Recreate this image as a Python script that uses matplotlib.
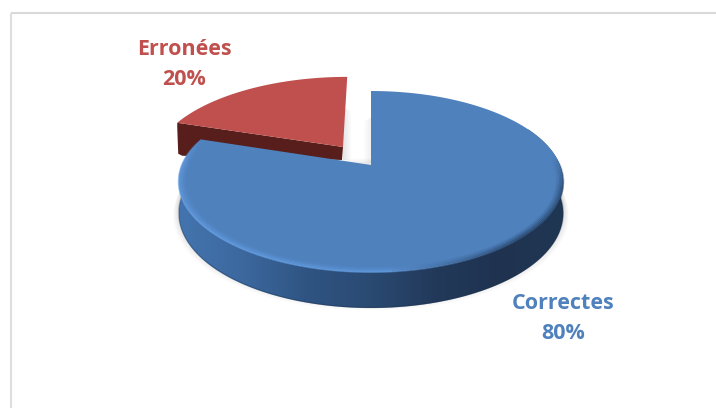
import numpy as np
import matplotlib
matplotlib.use("Agg")
import matplotlib.pyplot as plt
from matplotlib.collections import LineCollection
from matplotlib.patches import Polygon
from matplotlib.colors import LinearSegmentedColormap, to_rgb

# Data
labels = ["Correctes", "Erronées"]
shares = [80, 20]
colors = ["#4f81bd", "#c0504d"]

# perspective of the tilted disc, in pixels of the 716x408 figure
cx, cy = 371, 165
ax_u, a_v, persp = 189, -57.4, 0.1823


def project(u, v):
    w = 1 + persp * v
    return cx + ax_u * u / w, (cy + a_v * v) / w


def depth(v, base=31, slope=5):
    return base - slope * v


def slice_angles(start_share, share):
    # clockwise from the top, as in a spreadsheet pie
    a0 = start_share / sum(shares) * 2 * np.pi
    a1 = (start_share + share) / sum(shares) * 2 * np.pi
    return np.linspace(a0, a1, 240)


def arc(t, r=1.0, u0=0.0, v0=0.0):
    return u0 + r * np.sin(t), v0 + r * np.cos(t)


def mix(c1, c2, f):
    c1, c2 = np.array(to_rgb(c1)), np.array(to_rgb(c2))
    return tuple(c1 + (c2 - c1) * f)


fig = plt.figure(figsize=(7.16, 4.08), dpi=100)
ax = fig.add_axes([0, 0, 1, 1])
ax.set_xlim(0, 716)
ax.set_ylim(408, 0)
ax.axis("off")

# chart frame, only top and left are visible in the crop
ax.plot([10.5, 716], [12.5, 12.5], color="#d9d9d9", lw=1.5, solid_capstyle="butt")
ax.plot([10.5, 10.5], [12.5, 408], color="#dedede", lw=1.5, solid_capstyle="butt")

t_blue = slice_angles(0, shares[0])
t_red = slice_angles(shares[0], shares[1])

# Erronees slice, pulled out of the pie
u0, v0, r_red = -0.154, 0.214, 1.02
ur, vr = arc(t_red, r_red, u0, v0)
xr, yr = project(np.r_[u0, ur], np.r_[v0, vr])
apex = np.array([xr[0], yr[0]])
corner = np.array([xr[1], yr[1]])
end = np.array([xr[-1], yr[-1]])

# soft shadow to the right of the red slice and of the blue cut
for k in range(1, 6):
    ax.fill([apex[0], apex[0] + k * 1.6, apex[0] + k * 1.6, apex[0]],
            [end[1] + 30, end[1] + 34, apex[1] + 13, apex[1] + 13],
            color="#000000", alpha=0.02, lw=0)
    ax.fill([cx - k * 1.4, cx, cx, cx - k * 1.4],
            [cy - 44, cy - 48, cy - 2, cy - 2],
            color="#000000", alpha=0.012, lw=0)

# its rim: thin band along the cut edge, longer at the outer end
ax.add_patch(Polygon([apex, apex + [-1, 13], corner + [5, 33], corner + [1, 31], corner + [0, 5], corner],
                     closed=True, color="#571e1b", lw=0))
ax.add_patch(Polygon(np.c_[xr, yr], closed=True, color=colors[1], lw=0))

# Correctes slice
ub, vb = arc(t_blue)
xb, yb = project(ub, vb)
low = (vb < 0.45)

# soft shadow under the disc
for k in range(1, 9):
    ax.fill(xb[low] + np.sign(ub[low]) * k * 0.7, (yb + depth(vb))[low] + k * 1.0 - 6,
            color="#000000", alpha=0.014, lw=0)

# rim with horizontal shading
rim_x = np.r_[xb[low], xb[low][::-1]]
rim_y = np.r_[yb[low], (yb + depth(vb))[low][::-1]]
rim = Polygon(np.c_[rim_x, rim_y], closed=True, transform=ax.transData, lw=0, fc="none")
ax.add_patch(rim)
rim_cmap = LinearSegmentedColormap.from_list(
    "rim", ["#4474ae", "#3c689e", "#2f5482", "#2a4a72", "#22395a", "#1f3350", "#203754"])
grad = ax.imshow(np.linspace(0, 1, 256)[None, :], cmap=rim_cmap, aspect="auto",
                 extent=[xb.min(), xb.max(), yb.max() + 45, yb.min()], zorder=1.5)
grad.set_clip_path(rim)
ax.set_xlim(0, 716)
ax.set_ylim(408, 0)

# dark line at the bottom of the rim
ax.plot(xb[low], (yb + depth(vb))[low] - 0.5, color="#1d3250", lw=1, alpha=0.35, zorder=1.6)

xf, yf = project(np.r_[0, ub], np.r_[0, vb])
ax.add_patch(Polygon(np.c_[xf, yf], closed=True, color=colors[0], lw=0, zorder=2))

# bevel along the edge of the top face: light on the left, dark on the right
for r, alpha in [(1.0, 0.7), (0.992, 0.5), (0.984, 0.35), (0.976, 0.2), (0.968, 0.1)]:
    ue, ve = arc(t_blue, r)
    xe, ye = project(ue, ve)
    pts = np.c_[xe, ye]
    segs = np.stack([pts[:-1], pts[1:]], axis=1)
    seg_colors = []
    for um, vm in zip(ue[:-1], ve[:-1]):
        f = np.clip((um + 1) / 2, 0, 1)
        if f < 0.55:
            c = mix("#66a0e6", "#5d97dc", f / 0.55)
        else:
            c = mix("#5a90d0", "#1f3a5c", (f - 0.55) / 0.3 if f < 0.85 else 1)
        fade = np.clip((0.1 - vm) / 0.35, 0, 1) if um > 0 else np.clip((0.3 - vm) / 0.3, 0, 1)
        seg_colors.append((*c, alpha * fade))
    ax.add_collection(LineCollection(segs, colors=seg_colors, linewidths=1.4, zorder=2.1))

# labels
font = ["Open Sans", "DejaVu Sans"]
ax.text(563, 318.5, f"{labels[0]}\n{shares[0]}%", color=colors[0], fontsize=15.5, family=font,
        fontweight="bold", ha="center", va="center", linespacing=1.55, zorder=3)
ax.text(184.5, 64.5, f"{labels[1]}\n{shares[1]}%", color=colors[1], fontsize=15.5, family=font,
        fontweight="bold", ha="center", va="center", linespacing=1.55, zorder=3)

fig.savefig("out.png", dpi=100, facecolor="white")
